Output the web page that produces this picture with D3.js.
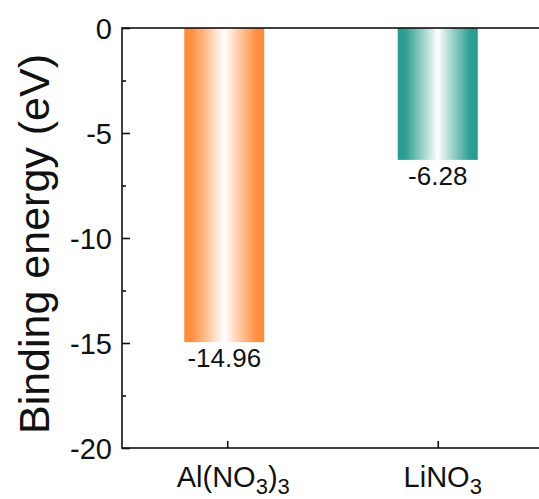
<!DOCTYPE html>
<html>
<head>
<meta charset="utf-8">
<script src="https://cdn.jsdelivr.net/npm/d3@7"></script>
<style>
  html, body { margin: 0; padding: 0; background: #fff; }
  svg { display: block; font-family: Arial, "Liberation Sans", sans-serif; }
</style>
</head>
<body>
<script>
// ---- data ----
const categories = ["Al(NO3)3", "LiNO3"];
const labelParts = [
  [["Al(NO", false], ["3", true], [")", false], ["3", true]],
  [["LiNO", false], ["3", true]]
];
const values = [-14.96, -6.28];
const valueLabels = ["-14.96", "-6.28"];
const barColors = ["#FF8B3A", "#259B8C"];
const yTicks = [0, -5, -10, -15, -20];
const yMinorTicks = [-2.5, -7.5, -12.5, -17.5];
const yTitle = "Binding energy (eV)";

// ---- layout ----
const W = 539, H = 499;
const pL = 122, pT = 28, pR = 543, pB = 448;

const svg = d3.select("body").append("svg").attr("width", W).attr("height", H);

const x = d3.scalePoint().domain(categories).range([pL, pR]).padding(0.5);
const y = d3.scaleLinear().domain([0, -20]).range([pT, pB]);
const barW = 80;

// gradients
const defs = svg.append("defs");
barColors.forEach((c, i) => {
  const g = defs.append("linearGradient").attr("id", "grad" + i)
    .attr("x1", "0%").attr("x2", "100%").attr("y1", "0%").attr("y2", "0%");
  g.append("stop").attr("offset", "0%").attr("stop-color", c);
  g.append("stop").attr("offset", "10%").attr("stop-color", c).attr("stop-opacity", 0.95);
  g.append("stop").attr("offset", "50%").attr("stop-color", "#ffffff");
  g.append("stop").attr("offset", "90%").attr("stop-color", c).attr("stop-opacity", 0.95);
  g.append("stop").attr("offset", "100%").attr("stop-color", c);
});

// bars
svg.selectAll("rect.bar").data(values).enter().append("rect")
  .attr("class", "bar")
  .attr("x", (d, i) => x(categories[i]) - barW / 2 - (i === 0 ? 3 : 0))
  .attr("y", y(0))
  .attr("width", barW)
  .attr("height", d => y(d) - y(0))
  .attr("fill", (d, i) => `url(#grad${i})`);

// value labels
svg.selectAll("text.val").data(values).enter().append("text")
  .attr("class", "val")
  .attr("x", (d, i) => x(categories[i]) - (i === 0 ? 3 : 0))
  .attr("y", d => y(d) + 25)
  .attr("text-anchor", "middle")
  .attr("font-size", 26)
  .attr("fill", "#111")
  .text((d, i) => valueLabels[i]);

// frame
svg.append("rect").attr("x", pL).attr("y", pT)
  .attr("width", pR - pL).attr("height", pB - pT)
  .attr("fill", "none").attr("stroke", "#111").attr("stroke-width", 1.6);

// y axis
const yAxis = d3.axisLeft(y).tickValues(yTicks).tickSizeInner(-8).tickSizeOuter(0).tickPadding(10)
  .tickFormat(d => d === 0 ? "0" : String(d));
const gy = svg.append("g").attr("transform", `translate(${pL},0)`).call(yAxis);
gy.select(".domain").remove();
gy.selectAll(".tick line").attr("stroke", "#111").attr("stroke-width", 1.6);
gy.selectAll(".tick text").attr("font-size", 29).attr("fill", "#111").attr("dy", "0.36em");

const yMinor = d3.axisLeft(y).tickValues(yMinorTicks).tickSizeInner(-4).tickSizeOuter(0).tickFormat("");
const gym = svg.append("g").attr("transform", `translate(${pL},0)`).call(yMinor);
gym.select(".domain").remove();
gym.selectAll(".tick line").attr("stroke", "#111").attr("stroke-width", 1.6);

// x axis
const xAxis = d3.axisBottom(x).tickSizeInner(-7).tickSizeOuter(0).tickFormat("");
const gx = svg.append("g").attr("transform", `translate(0,${pB})`).call(xAxis);
gx.select(".domain").remove();
gx.selectAll(".tick line").attr("stroke", "#111").attr("stroke-width", 1.6);

// x labels with subscripts
categories.forEach((c, i) => {
  const t = svg.append("text")
    .attr("x", x(c) + (i === 0 ? 6 : 5))
    .attr("y", 487)
    .attr("text-anchor", "middle")
    .attr("font-size", 29)
    .attr("fill", "#111");
  labelParts[i].forEach(([s, sub], k) => {
    const ts = t.append("tspan").text(s);
    if (sub) ts.attr("font-size", 22).attr("dy", 7);
    else if (k > 0) ts.attr("dy", -7);
  });
});

// y title
svg.append("text")
  .attr("transform", `translate(49,244) rotate(-90)`)
  .attr("text-anchor", "middle")
  .attr("font-size", 43)
  .attr("fill", "#111")
  .text(yTitle);
</script>
</body>
</html>
